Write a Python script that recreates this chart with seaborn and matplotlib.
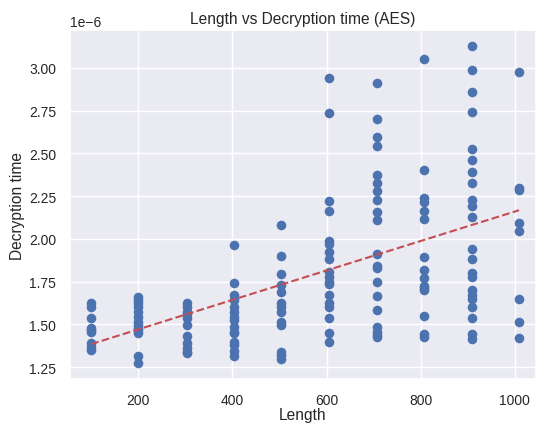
import numpy as np
import pandas as pd
import seaborn as sns
import matplotlib
matplotlib.use("Agg")
import matplotlib.pyplot as plt

# Message lengths (one per column of points)
lengths = [100, 200, 304, 403, 504, 606, 708, 806, 909, 1009]

# Decryption times (x1e-6 s) read per length
times_100 = [1.622, 1.603, 1.539, 1.477, 1.465, 1.457, 1.390, 1.370, 1.351]
times_200 = [1.661, 1.641, 1.622, 1.603, 1.574, 1.545, 1.516, 1.496, 1.477, 1.465, 1.452, 1.312, 1.273]
times_304 = [1.622, 1.603, 1.574, 1.558, 1.535, 1.496, 1.434, 1.390, 1.361, 1.341, 1.330]
times_403 = [1.961, 1.742, 1.671, 1.641, 1.603, 1.574, 1.545, 1.525, 1.486, 1.457, 1.448, 1.399, 1.380, 1.345, 1.312]
times_504 = [2.078, 1.897, 1.793, 1.729, 1.690, 1.622, 1.603, 1.574, 1.516, 1.496, 1.341, 1.322, 1.297]
times_606 = [2.940, 2.736, 2.223, 2.165, 1.990, 1.971, 1.922, 1.884, 1.806, 1.777, 1.748, 1.733, 1.671, 1.622, 1.603, 1.539, 1.448, 1.399]
times_708 = [2.911, 2.702, 2.595, 2.543, 2.372, 2.326, 2.277, 2.229, 2.159, 2.112, 1.913, 1.841, 1.829, 1.748, 1.665, 1.583, 1.486, 1.453, 1.440, 1.428]
times_806 = [3.050, 2.401, 2.236, 2.213, 2.165, 2.116, 1.891, 1.816, 1.771, 1.725, 1.710, 1.700, 1.550, 1.442, 1.428]
times_909 = [3.128, 2.988, 2.857, 2.742, 2.527, 2.461, 2.388, 2.326, 2.229, 2.190, 2.126, 1.938, 1.880, 1.800, 1.777, 1.700, 1.671, 1.647, 1.603, 1.535, 1.442, 1.415]
times_1009 = [2.975, 2.295, 2.287, 2.093, 2.043, 1.647, 1.515, 1.422]

all_times = [times_100, times_200, times_304, times_403, times_504,
             times_606, times_708, times_806, times_909, times_1009]

xs, ys = [], []
for L, ts in zip(lengths, all_times):
    for t in ts:
        xs.append(L)
        ys.append(t * 1e-6)
df = pd.DataFrame({"Length": xs, "Decryption time": ys})

sns.set_theme()
sns.set_color_codes()
plt.rcParams["font.family"] = ["Liberation Sans", "DejaVu Sans"]

fig = plt.figure(figsize=(5.36, 4.27), dpi=100)
ax = fig.add_axes([70 / 536, 47 / 427, 466 / 536, 349 / 427])

sns.scatterplot(data=df, x="Length", y="Decryption time", ax=ax,
                s=48, linewidth=0, color="#4c72b0", alpha=1)

coef = np.polyfit(df["Length"], df["Decryption time"], 1)
p = np.poly1d(coef)
ax.plot(df["Length"], p(df["Length"]), "r--")

ax.set_xlim(55, 1045)
ax.set_title("Length vs Decryption time (AES)", fontsize=11.2, pad=5)
ax.set_xlabel("Length", fontsize=11.2, labelpad=0)
ax.set_ylabel("Decryption time", fontsize=11.2, labelpad=3)
ax.tick_params(labelsize=10, pad=4)
ax.yaxis.get_offset_text().set_fontsize(10)

fig.savefig("out.png", dpi=100)
